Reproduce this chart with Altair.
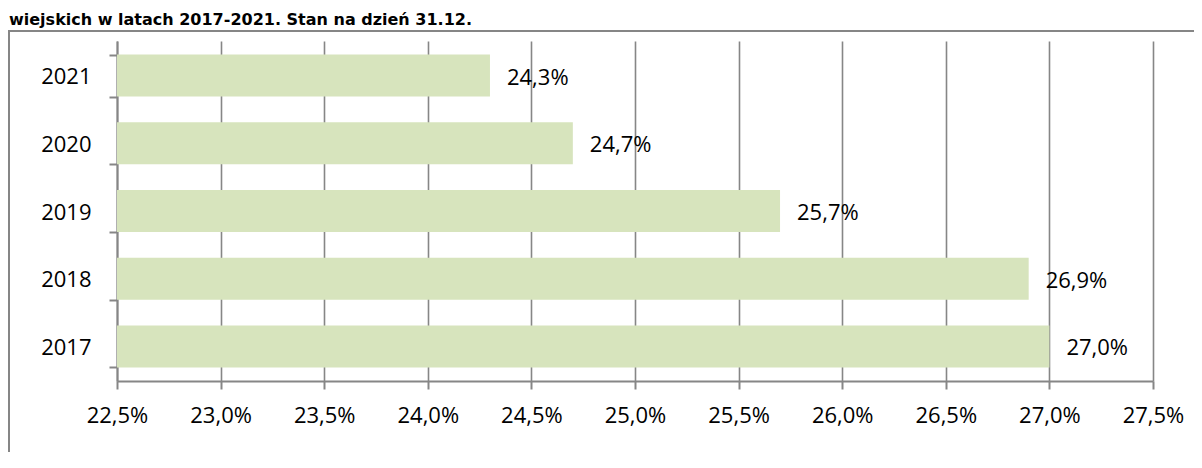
import altair as alt
import pandas as pd

years = ["2021", "2020", "2019", "2018", "2017"]
values = [24.3, 24.7, 25.7, 26.9, 27.0]
value_labels = ["24,3%", "24,7%", "25,7%", "26,9%", "27,0%"]
axis_min = 22.5
axis_max = 27.5
x_ticks = [22.5, 23.0, 23.5, 24.0, 24.5, 25.0, 25.5, 26.0, 26.5, 27.0, 27.5]
title_text = "wiejskich w latach 2017-2021. Stan na dzień 31.12."

df = pd.DataFrame({
    "year": years,
    "value": values,
    "label": value_labels,
    "base": [axis_min] * len(years),
})

FONT = "Open Sans"
GRAY = "#868686"
W, H = 1036, 340

y_enc = alt.Y(
    "year:N",
    sort=years,
    title=None,
    scale=alt.Scale(paddingInner=0.38, paddingOuter=0.2),
    axis=alt.Axis(
        tickBand="extent",
        domainColor=GRAY,
        domainWidth=2,
        tickColor=GRAY,
        tickWidth=2,
        tickSize=8,
        labelPadding=18,
        labelFont=FONT,
        labelFontSize=22,
        labelColor="black",
        labelOffset=1,
        grid=False,
    ),
)

x_enc = alt.X(
    "value:Q",
    title=None,
    scale=alt.Scale(domain=[axis_min, axis_max], zero=False, nice=False),
    axis=alt.Axis(
        values=x_ticks,
        labelExpr="replace(format(datum.value, '.1f'), '.', ',') + '%'",
        domainColor=GRAY,
        domainWidth=2,
        tickColor=GRAY,
        tickWidth=2,
        tickSize=8,
        labelPadding=16,
        labelBaseline="top",
        labelFont=FONT,
        labelFontSize=22,
        labelColor="black",
        grid=True,
        gridColor=GRAY,
        gridWidth=1.6,
        labelFlush=False,
    ),
)

base = alt.Chart(df)

bars = base.mark_bar(color="#D7E4BD").encode(
    y=y_enc,
    x=x_enc,
    x2="base:Q",
)

text = base.mark_text(
    align="left", baseline="middle", dx=17, dy=2,
    font=FONT, fontSize=22, color="black",
).encode(
    y=alt.Y("year:N", sort=years),
    x=alt.X("value:Q"),
    text="label:N",
)

frame_df = pd.DataFrame({"t": [title_text]})
frame = alt.Chart(frame_df).mark_rect(
    fill=None, stroke=GRAY, strokeWidth=2, clip=False
).encode(
    x=alt.value(-108),
    x2=alt.value(W + 200),
    y=alt.value(-10),
    y2=alt.value(H + 200),
)

title = alt.Chart(frame_df).mark_text(
    align="left", baseline="alphabetic", font="DejaVu Sans",
    fontWeight="bold", fontSize=16, color="black",
).encode(
    x=alt.value(-108),
    y=alt.value(-16),
    text="t:N",
)

chart = alt.layer(frame, bars, text, title).properties(
    width=W,
    height=H,
    background="white",
    autosize=alt.AutoSizeParams(type="none"),
    padding={"left": 109, "top": 33, "right": 41, "bottom": 71},
).configure_view(stroke=None)

chart.save("out.html", embed_options={"renderer": "svg", "actions": False})
